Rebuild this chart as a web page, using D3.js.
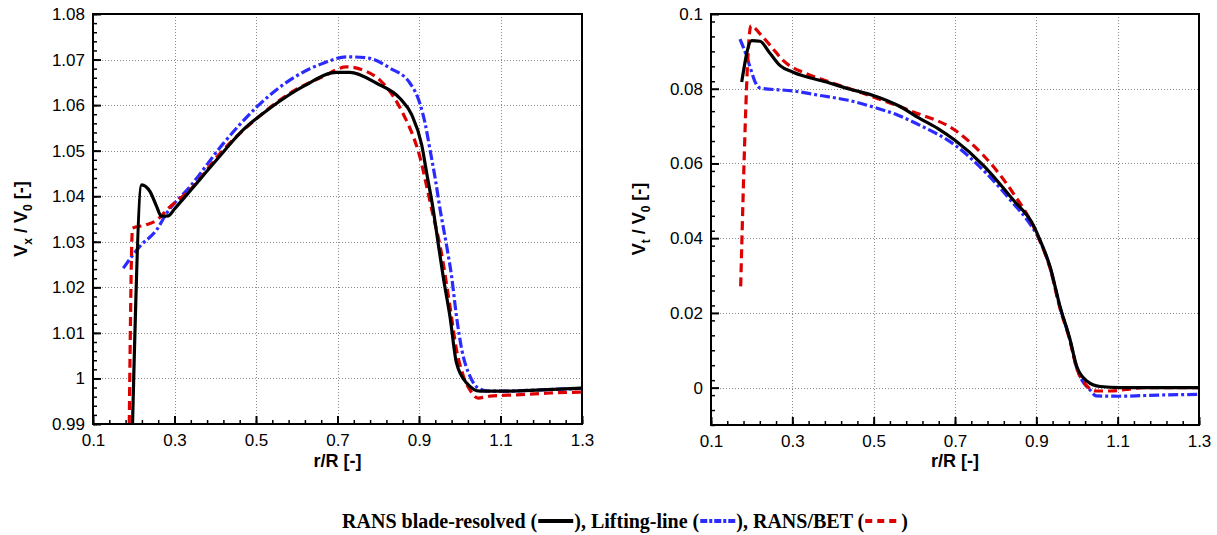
<!DOCTYPE html>
<html><head><meta charset="utf-8">
<script src="https://cdn.jsdelivr.net/npm/d3@7"></script>
<style>
body{margin:0;background:#fff;}
svg{display:block;}
.tick text{font-family:"Liberation Sans",Arial,sans-serif;font-size:17px;fill:#000;}
.title{font-family:"Liberation Sans",Arial,sans-serif;font-size:18px;font-weight:bold;fill:#000;}
.legend{font-family:"Liberation Serif","Times New Roman",serif;font-size:20px;font-weight:bold;fill:#000;}
</style></head>
<body>
<svg id="chart" width="1217" height="535"></svg>
<script>
// ---------- data ----------
const xTicks = [0.1,0.3,0.5,0.7,0.9,1.1,1.3];
const vxTicks = [0.99,1,1.01,1.02,1.03,1.04,1.05,1.06,1.07,1.08];
const vtTicks = [0,0.02,0.04,0.06,0.08,0.1];

// Vx/V0 vs r/R
const vxBlade = [[0.197,0.99],[0.2195,1.0425],[0.24,1.041],[0.255,1.038],[0.268,1.0356],[0.285,1.0357],[0.3,1.0372],[0.33,1.0403],[0.4036,1.048],[0.469,1.0546],[0.534,1.0593],[0.616,1.0641],[0.698,1.0672],[0.73,1.0672],[0.796,1.0648],[0.853,1.0615],[0.882,1.0579],[0.9066,1.0513],[0.919,1.045],[0.935,1.037],[0.947,1.0297],[0.96,1.022],[0.976,1.0136],[0.992,1.0034],[1.017,0.999],[1.05,0.9972],[1.1,0.9972],[1.2,0.9975],[1.3,0.9979]];
const vxLifting = [[0.1744,1.0242],[0.215,1.029],[0.256,1.0326],[0.281,1.0363],[0.338,1.0421],[0.42,1.0516],[0.502,1.0596],[0.583,1.0655],[0.665,1.0692],[0.7225,1.0706],[0.771,1.0704],[0.829,1.0681],[0.878,1.0648],[0.902,1.0604],[0.915,1.056],[0.927,1.0502],[0.939,1.0443],[0.952,1.037],[0.968,1.029],[0.98,1.0224],[0.992,1.0136],[1.005,1.0063],[1.025,1.0005],[1.045,0.9979],[1.07,0.9972],[1.1,0.9972],[1.2,0.9975],[1.3,0.9978]];
const vxBET = [[0.189,0.99],[0.197,1.033],[0.23,1.0337],[0.26,1.035],[0.281,1.037],[0.338,1.0414],[0.42,1.0502],[0.502,1.0571],[0.583,1.0626],[0.665,1.0663],[0.7225,1.0684],[0.771,1.0674],[0.804,1.0655],[0.837,1.0619],[0.866,1.0572],[0.886,1.0531],[0.902,1.0487],[0.919,1.0421],[0.935,1.0356],[0.952,1.029],[0.976,1.0158],[0.992,1.0063],[1.009,1.0005],[1.025,0.9975],[1.045,0.9957],[1.074,0.9961],[1.14,0.9964],[1.221,0.9968],[1.3,0.997]];

// Vt/V0 vs r/R
const vtBlade = [[0.1755,0.0818],[0.2,0.0929],[0.2205,0.0927],[0.245,0.0895],[0.27,0.0862],[0.302,0.0844],[0.384,0.0818],[0.4376,0.08],[0.4991,0.0782],[0.56,0.0755],[0.614,0.072],[0.66,0.0692],[0.7,0.0662],[0.7696,0.0595],[0.8434,0.0502],[0.8926,0.0435],[0.909,0.0395],[0.9336,0.0324],[0.958,0.0218],[0.9828,0.0129],[0.999,0.0058],[1.024,0.0018],[1.057,0.0003],[1.106,0],[1.2,0],[1.3,0]];
const vtLifting = [[0.1713,0.0933],[0.185,0.0895],[0.196,0.0858],[0.21,0.0815],[0.2205,0.0802],[0.302,0.0794],[0.368,0.0782],[0.4376,0.0769],[0.499,0.0751],[0.56,0.0729],[0.614,0.0702],[0.7,0.0649],[0.7696,0.0582],[0.8434,0.0493],[0.88,0.0445],[0.909,0.0393],[0.9336,0.0322],[0.958,0.0216],[0.9828,0.0127],[0.999,0.0054],[1.015,0.0015],[1.031,-0.0005],[1.047,-0.0022],[1.1,-0.0023],[1.2,-0.002],[1.3,-0.0018]];
const vtBET = [[0.173,0.0271],[0.1983,0.0969],[0.2205,0.0947],[0.25,0.091],[0.278,0.0875],[0.335,0.084],[0.368,0.0827],[0.499,0.0778],[0.5975,0.0738],[0.7,0.0689],[0.7696,0.0622],[0.8434,0.052],[0.893,0.0431],[0.909,0.0392],[0.9336,0.032],[0.958,0.0213],[0.9828,0.0125],[0.999,0.0053],[1.02,0.001],[1.048,-0.0009],[1.08,-0.0009],[1.12,-0.0005],[1.16,0],[1.3,0]];

const seriesNames = ["RANS blade-resolved","Lifting-line","RANS/BET"];
const seriesColors = ["#000000","#2b2bff","#dd0000"];
const seriesDash = [null,"10,3,3,3","9,5"];

// ---------- drawing ----------
const svg = d3.select("#chart");

function panel(opts){
  const {left,right,top,bottom,yDomain,yTicks,yMinor,ySub,series,titleX} = opts;
  const x = d3.scaleLinear().domain([0.1,1.3]).range([left,right]);
  const y = d3.scaleLinear().domain(yDomain).range([bottom,top]);
  const g = svg.append("g");
  const clipId = "clip"+left;
  g.append("clipPath").attr("id",clipId).append("rect")
    .attr("x",left).attr("y",top).attr("width",right-left).attr("height",bottom-top);

  // grid
  const grid = g.append("g").attr("stroke","#8a8a8a").attr("stroke-width",1).attr("stroke-dasharray","1,2");
  grid.selectAll("line.v").data(xTicks.slice(1,-1)).join("line")
    .attr("x1",d=>Math.round(x(d))+0.5).attr("x2",d=>Math.round(x(d))+0.5).attr("y1",top).attr("y2",bottom);
  grid.selectAll("line.h").data(yTicks.filter(d=>y(d)>top+1 && y(d)<bottom-1)).join("line")
    .attr("y1",d=>Math.round(y(d))+0.5).attr("y2",d=>Math.round(y(d))+0.5).attr("x1",left).attr("x2",right);

  // minor ticks
  const xMinor = d3.range(0,31).map(i=>0.1+i*0.04).filter(d=>d<=1.3001);
  g.append("g").attr("transform",`translate(0,${bottom})`)
    .call(d3.axisBottom(x).tickValues(xMinor).tickSize(-4).tickFormat(""))
    .call(a=>a.select(".domain").remove()).selectAll("line").attr("stroke-width",1.5);
  const yMinorVals = d3.range(0,200).map(i=>yDomain[0]+i*yMinor).filter(d=>d<=yDomain[1]+1e-9);
  g.append("g").attr("transform",`translate(${left},0)`)
    .call(d3.axisLeft(y).tickValues(yMinorVals).tickSize(-4).tickFormat(""))
    .call(a=>a.select(".domain").remove()).selectAll("line").attr("stroke-width",1.5);

  // major axes
  g.append("g").attr("transform",`translate(0,${bottom})`)
    .call(d3.axisBottom(x).tickValues(xTicks).tickSize(-8).tickPadding(10).tickFormat(d=>String(+d.toFixed(2))))
    .call(a=>a.select(".domain").remove()).call(a=>a.selectAll("line").attr("stroke-width",2));
  g.append("g").attr("transform",`translate(${left},0)`)
    .call(d3.axisLeft(y).tickValues(yTicks).tickSize(-8).tickPadding(8).tickFormat(d=>String(+d.toFixed(3))))
    .call(a=>a.select(".domain").remove()).call(a=>a.selectAll("line").attr("stroke-width",2));

  // curves
  const line = d3.line().x(d=>x(d[0])).y(d=>y(d[1])).curve(d3.curveMonotoneX);
  const order = [1,2,0];
  const cg = g.append("g").attr("clip-path",`url(#${clipId})`);
  order.forEach(i=>{
    cg.append("path").datum(series[i]).attr("d",line)
      .attr("fill","none").attr("stroke",seriesColors[i]).attr("stroke-width",3.2)
      .attr("stroke-linejoin","round")
      .attr("stroke-dasharray",seriesDash[i]);
  });

  // frame
  g.append("rect").attr("x",left).attr("y",top).attr("width",right-left).attr("height",bottom-top)
    .attr("fill","none").attr("stroke","#000").attr("stroke-width",2);

  // titles
  g.append("text").attr("class","title").attr("x",x(0.7)).attr("y",467).attr("text-anchor","middle").text("r/R [-]");
  const t = g.append("text").attr("class","title").attr("text-anchor","middle")
    .attr("transform",`translate(${titleX},219) rotate(-90)`);
  t.append("tspan").text("V");
  t.append("tspan").attr("font-size","12px").attr("dy",5).text(ySub);
  t.append("tspan").attr("dy",-5).text(" / V");
  t.append("tspan").attr("font-size","12px").attr("dy",5).text("0");
  t.append("tspan").attr("dy",-5).text(" [-]");
}

panel({left:93,right:582,top:14,bottom:424,yDomain:[0.99,1.08],yTicks:vxTicks,yMinor:0.002,ySub:"x",
  series:[vxBlade,vxLifting,vxBET],titleX:27});
panel({left:711,right:1199,top:14,bottom:425,yDomain:[-0.01,0.1],yTicks:vtTicks,yMinor:0.004,ySub:"t",
  series:[vtBlade,vtLifting,vtBET],titleX:645});

// legend
const lg = svg.append("g");
let cx = 0;
const pieces = [];
seriesNames.forEach((n,i)=>{
  pieces.push({t:(i>0?", ":"")+n+" ("});
  pieces.push({s:i});
  pieces.push({t:")"});
});
pieces.forEach(p=>{
  if(p.t!==undefined){
    const tx = lg.append("text").attr("class","legend").attr("x",cx).attr("y",528).attr("xml:space","preserve").style("white-space","pre").text(p.t);
    cx += tx.node().getComputedTextLength();
  } else {
    const w = 37;
    lg.append("line").attr("x1",cx+1).attr("x2",cx+w-1).attr("y1",521).attr("y2",521)
      .attr("stroke",seriesColors[p.s]).attr("stroke-width",4)
      .attr("stroke-dasharray",p.s===1?"7,2,3,2":(p.s===2?"7,5":null));
    cx += w;
  }
});
lg.attr("transform",`translate(${625-cx/2},0)`);
</script>
</body></html>
